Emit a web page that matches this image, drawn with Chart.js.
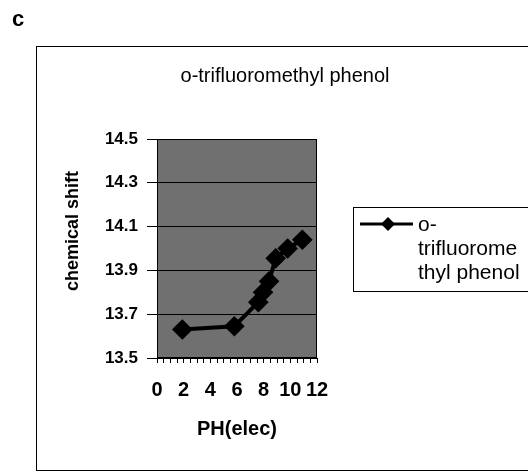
<!DOCTYPE html>
<html>
<head>
<meta charset="utf-8">
<script src="https://cdn.jsdelivr.net/npm/chart.js@4"></script>
<style>
  html, body { margin: 0; padding: 0; background: #fff; }
  canvas { display: block; }
</style>
</head>
<body>
<canvas id="chart" width="528" height="473"></canvas>
<script>
// data
const seriesName = 'o-trifluoromethyl phenol';
const phValues = [1.9, 5.8, 7.6, 7.95, 8.4, 8.9, 9.8, 10.9];
const shifts = [13.63, 13.645, 13.755, 13.8, 13.85, 13.955, 14.0, 14.04];
const xTicks = [0, 2, 4, 6, 8, 10, 12];
const yTicks = [13.5, 13.7, 13.9, 14.1, 14.3, 14.5];
const legendLines = ['o-', 'trifluorome', 'thyl phenol'];

const FONT = "'Liberation Sans', Arial, sans-serif";

// gray plot area, frame, outer box, panel letter, titles and legend
const decor = {
  id: 'decor',
  beforeDraw(chart) {
    const { ctx, chartArea: a } = chart;
    ctx.save();
    ctx.fillStyle = '#fff';
    ctx.fillRect(0, 0, chart.width, chart.height);
    ctx.fillStyle = '#707070';
    ctx.fillRect(a.left, a.top, a.right - a.left, a.bottom - a.top);
    ctx.restore();
  },
  afterDraw(chart) {
    const { ctx, chartArea: a } = chart;
    ctx.save();
    ctx.strokeStyle = '#000';
    ctx.lineWidth = 1;
    ctx.strokeRect(a.left + 0.5, a.top + 0.5, a.right - a.left - 1, a.bottom - a.top - 1);
    ctx.strokeRect(36.5, 46.5, 520, 424);

    ctx.fillStyle = '#000';
    ctx.textBaseline = 'middle';
    ctx.font = 'bold 22px ' + FONT;
    ctx.fillText('c', 12, 20);

    ctx.textAlign = 'center';
    ctx.font = '20px ' + FONT;
    ctx.fillText(seriesName, 285, 76);

    // y axis title, centred a bit above the plot middle as in the reference
    ctx.save();
    ctx.translate(73, 231);
    ctx.rotate(-Math.PI / 2);
    ctx.font = 'bold 18px ' + FONT;
    ctx.fillText('chemical shift', 0, 0);
    ctx.restore();

    // legend
    ctx.textAlign = 'left';
    ctx.strokeRect(353.5, 207.5, 180, 84);
    ctx.lineWidth = 3;
    ctx.beginPath();
    ctx.moveTo(360, 224);
    ctx.lineTo(413, 224);
    ctx.stroke();
    ctx.beginPath();
    ctx.moveTo(388, 217); ctx.lineTo(395, 224); ctx.lineTo(388, 231); ctx.lineTo(381, 224);
    ctx.closePath();
    ctx.fill();
    ctx.font = '21px ' + FONT;
    legendLines.forEach((t, i) => ctx.fillText(t, 418, 225 + i * 24));
    ctx.restore();
  }
};

new Chart(document.getElementById('chart'), {
  type: 'scatter',
  data: {
    datasets: [{
      label: seriesName,
      data: phValues.map((x, i) => ({ x, y: shifts[i] })),
      showLine: true,
      borderColor: '#000',
      backgroundColor: '#000',
      borderWidth: 4,
      pointStyle: 'rectRot',
      pointRadius: 7.5,
      pointHoverRadius: 7.5
    }]
  },
  options: {
    responsive: false,
    animation: false,
    events: [],
    layout: { padding: { left: 57, right: 211, top: 139, bottom: 20 } },
    plugins: { legend: { display: false }, tooltip: { enabled: false } },
    scales: {
      x: {
        type: 'linear',
        min: 0,
        max: 12,
        afterFit(s) { s.height = 95; },
        afterBuildTicks(s) {
          const t = [];
          for (let v = 0; v <= 12; v += 0.5) t.push({ value: v });
          s.ticks = t;
        },
        border: { display: true, color: '#000', width: 1 },
        grid: { drawOnChartArea: false, color: '#000', tickLength: 5, tickColor: '#000' },
        ticks: {
          autoSkip: false,
          maxRotation: 0,
          padding: 15,
          color: '#000',
          font: { family: FONT, size: 20, weight: 'bold' },
          callback: v => xTicks.includes(v) ? String(v) : ''
        },
        title: {
          display: true,
          text: 'PH(elec)',
          color: '#000',
          font: { family: FONT, size: 20, weight: 'bold' },
          padding: { top: 0, bottom: 12 }
        }
      },
      y: {
        min: 13.5,
        max: 14.5,
        afterFit(s) { s.width = 100; },
        afterBuildTicks(s) { s.ticks = yTicks.map(v => ({ value: v })); },
        border: { display: true, color: '#000', width: 1 },
        grid: { color: '#000', lineWidth: 1, tickLength: 10, tickColor: '#000' },
        ticks: {
          padding: 9,
          color: '#000',
          font: { family: FONT, size: 17, weight: 'bold' },
          callback: v => v.toFixed(1)
        }
      }
    }
  },
  plugins: [decor]
});
</script>
</body>
</html>
